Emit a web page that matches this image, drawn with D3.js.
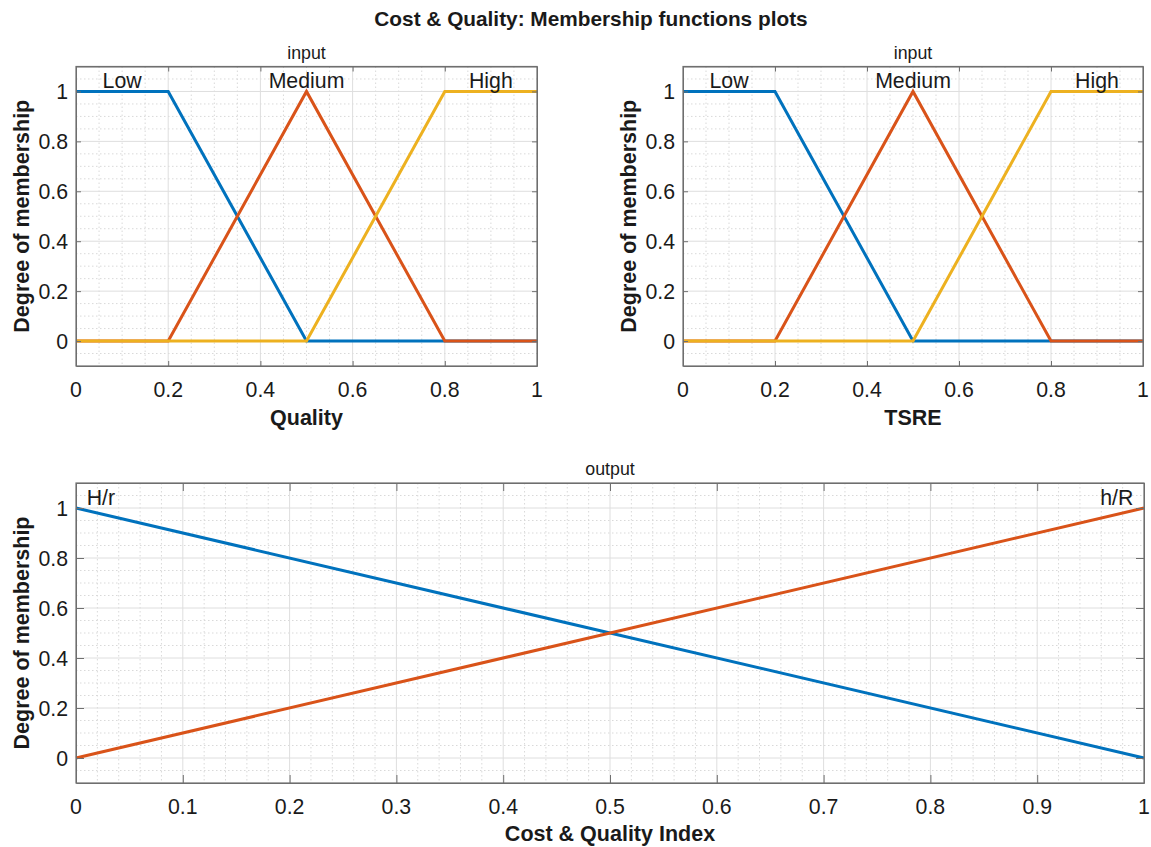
<!DOCTYPE html>
<html><head><meta charset="utf-8">
<script src="https://cdn.jsdelivr.net/npm/d3@7"></script>
<style>
html,body{margin:0;padding:0;background:#fff;}
text{font-family:"Liberation Sans",Arial,Helvetica,sans-serif;fill:#1a1a1a;}
</style></head>
<body>
<svg id="chart" width="1151" height="847"></svg>
<script>
// ---- data ----
const figTitle = "Cost & Quality: Membership functions plots";
const inputX = [0, 0.2, 0.5, 0.8, 1];
const lowY = [1, 1, 0, 0, 0];
const mediumY = [0, 0, 1, 0, 0];
const highY = [0, 0, 0, 1, 1];
const inputNames = ["Low", "Medium", "High"];
const inputNameX = [0.1, 0.5, 0.9];
const outputX = [0, 1];
const hrY = [1, 0];
const hRY = [0, 1];
const outputNames = ["H/r", "h/R"];
const yTicks = [0, 0.2, 0.4, 0.6, 0.8, 1];
const xTicksTop = [0, 0.2, 0.4, 0.6, 0.8, 1];
const xTicksBottom = [0, 0.1, 0.2, 0.3, 0.4, 0.5, 0.6, 0.7, 0.8, 0.9, 1];
const colors = ["#0072BD", "#D95319", "#EDB120"];

const svg = d3.select("#chart");
svg.append("text").attr("x", 591).attr("y", 26).attr("text-anchor", "middle")
  .style("font-size", "20.8px").style("font-weight", "bold").text(figTitle);

function panel(cfg) {
  const x = d3.scaleLinear().domain([0, 1]).range([cfg.x0, cfg.x1]);
  const y = d3.scaleLinear().domain([-0.1, 1.1]).range([cfg.y1, cfg.y0]);
  const g = svg.append("g");
  const eps = 1e-9;
  const isMajor = (v, arr) => arr.some(t => Math.abs(t - v) < eps);
  // minor grid
  const minorX = d3.range(0, 1 + eps, cfg.minorXStep).filter(v => !isMajor(v, cfg.xTicks) && v < 1 - eps);
  const minorY = d3.range(-0.1, 1.1 + eps, 0.05).map(v => Math.round(v * 100) / 100)
    .filter(v => !isMajor(v, yTicks) && v > -0.1 + eps && v < 1.1 - eps);
  g.selectAll(".mx").data(minorX).join("line")
    .attr("x1", d => x(d)).attr("x2", d => x(d)).attr("y1", cfg.y0).attr("y2", cfg.y1)
    .attr("stroke", "#d9d9d9").attr("stroke-width", 1).attr("stroke-dasharray", "1.5,2.5");
  g.selectAll(".my").data(minorY).join("line")
    .attr("y1", d => y(d)).attr("y2", d => y(d)).attr("x1", cfg.x0).attr("x2", cfg.x1)
    .attr("stroke", "#d9d9d9").attr("stroke-width", 1).attr("stroke-dasharray", "1.5,2.5");
  // major grid
  g.selectAll(".gx").data(cfg.xTicks.filter(v => v > 0 && v < 1)).join("line")
    .attr("x1", d => x(d)).attr("x2", d => x(d)).attr("y1", cfg.y0).attr("y2", cfg.y1)
    .attr("stroke", "#dedede").attr("stroke-width", 1);
  g.selectAll(".gy").data(yTicks).join("line")
    .attr("y1", d => y(d)).attr("y2", d => y(d)).attr("x1", cfg.x0).attr("x2", cfg.x1)
    .attr("stroke", "#dedede").attr("stroke-width", 1);
  // lines
  const line = d3.line().x(d => x(d[0])).y(d => y(d[1]));
  cfg.series.forEach((s, i) => {
    g.append("path").datum(cfg.xs.map((v, k) => [v, s[k]]))
      .attr("d", line).attr("fill", "none").attr("stroke", colors[i])
      .attr("stroke-width", 3).attr("stroke-linejoin", "miter");
  });
  // box + ticks (inward on all sides)
  const tl = cfg.tickLen;
  const axisColor = "#6f6f6f";
  const axB = d3.axisBottom(x).tickValues(cfg.xTicks).tickSizeInner(-tl).tickSizeOuter(0).tickFormat("");
  const axT = d3.axisTop(x).tickValues(cfg.xTicks).tickSizeInner(-tl).tickSizeOuter(0).tickFormat("");
  const axL = d3.axisLeft(y).tickValues(yTicks).tickSizeInner(-tl).tickSizeOuter(0).tickFormat("");
  const axR = d3.axisRight(y).tickValues(yTicks).tickSizeInner(-tl).tickSizeOuter(0).tickFormat("");
  [[axB, `translate(0,${cfg.y1})`], [axT, `translate(0,${cfg.y0})`],
   [axL, `translate(${cfg.x0},0)`], [axR, `translate(${cfg.x1},0)`]].forEach(([a, t]) => {
    const ag = g.append("g").attr("transform", t).call(a);
    ag.selectAll("path,line").attr("stroke", axisColor).attr("stroke-width", 1);
  });
  g.append("rect").attr("x", cfg.x0).attr("y", cfg.y0).attr("width", cfg.x1 - cfg.x0)
    .attr("height", cfg.y1 - cfg.y0).attr("fill", "none").attr("stroke", axisColor).attr("stroke-width", 1.2);
  // tick labels
  const fmt = d => d3.format("")(+d.toFixed(2));
  g.selectAll(".xl").data(cfg.xTicks).join("text")
    .attr("x", d => x(d)).attr("y", cfg.xTickBase).attr("text-anchor", "middle")
    .style("font-size", "21.3px").text(fmt);
  g.selectAll(".yl").data(yTicks).join("text")
    .attr("x", cfg.x0 - 8).attr("y", d => y(d) + 7.6).attr("text-anchor", "end")
    .style("font-size", "21.3px").text(fmt);
  // names
  cfg.names.forEach((n, i) => {
    g.append("text").attr("x", x(cfg.nameX[i])).attr("y", y(1.05) + 9.3)
      .attr("text-anchor", cfg.nameAnchor[i]).style("font-size", "21.3px").text(n);
  });
  // labels
  g.append("text").attr("x", (cfg.x0 + cfg.x1) / 2).attr("y", cfg.xLabelBase).attr("text-anchor", "middle")
    .style("font-size", "21.5px").style("font-weight", "bold").text(cfg.xLabel);
  g.append("text").attr("transform", `translate(${cfg.yLabelX},${(cfg.y0 + cfg.y1) / 2}) rotate(-90)`)
    .attr("text-anchor", "middle").style("font-size", "21.5px").style("font-weight", "bold")
    .text("Degree of membership");
  g.append("text").attr("x", (cfg.x0 + cfg.x1) / 2).attr("y", cfg.y0 - 8).attr("text-anchor", "middle")
    .style("font-size", "17.8px").text(cfg.sub);
}

panel({x0: 76, x1: 537, y0: 66.5, y1: 366, xTicks: xTicksTop, minorXStep: 0.05, tickLen: 5,
  xs: inputX, series: [lowY, mediumY, highY], names: inputNames, nameX: inputNameX,
  nameAnchor: ["middle", "middle", "middle"], xLabel: "Quality", sub: "input",
  xTickBase: 397, xLabelBase: 425, yLabelX: 29});
panel({x0: 683, x1: 1143, y0: 66.5, y1: 366, xTicks: xTicksTop, minorXStep: 0.05, tickLen: 5,
  xs: inputX, series: [lowY, mediumY, highY], names: inputNames, nameX: inputNameX,
  nameAnchor: ["middle", "middle", "middle"], xLabel: "TSRE", sub: "input",
  xTickBase: 397, xLabelBase: 425, yLabelX: 636});
panel({x0: 76, x1: 1144, y0: 483, y1: 783, xTicks: xTicksBottom, minorXStep: 0.02, tickLen: 8,
  xs: outputX, series: [hrY, hRY], names: outputNames, nameX: [0.01, 0.99],
  nameAnchor: ["start", "end"], xLabel: "Cost & Quality Index", sub: "output",
  xTickBase: 814, xLabelBase: 841, yLabelX: 29});
</script>
</body></html>
